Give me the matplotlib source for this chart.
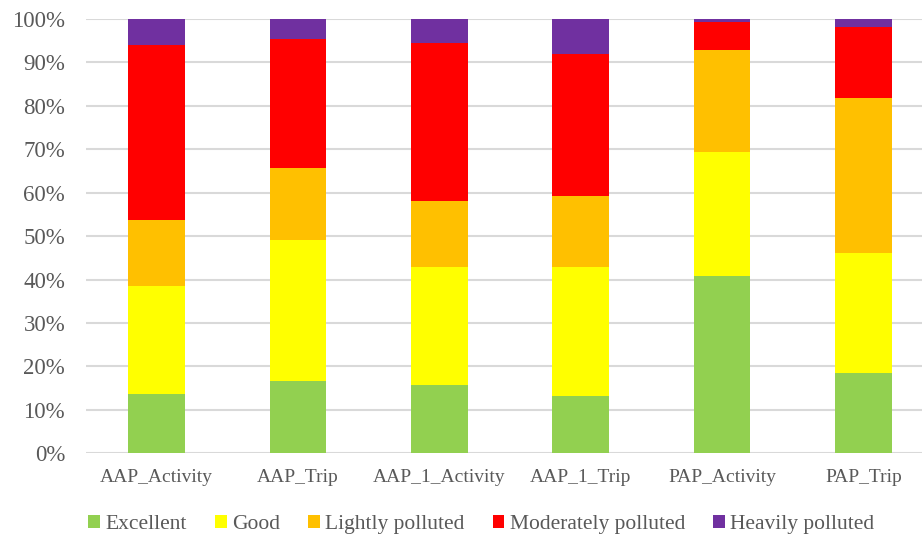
import matplotlib.pyplot as plt
import numpy as np

plt.rcParams['font.family'] = ['Liberation Serif', 'DejaVu Serif']

# share of days in each air-quality class (%)
categories = ["AAP_Activity", "AAP_Trip", "AAP_1_Activity", "AAP_1_Trip", "PAP_Activity", "PAP_Trip"]
excellent = [13.7, 16.7, 15.7, 13.2, 40.8, 18.4]
good = [24.8, 32.4, 27.3, 29.7, 28.6, 27.7]
lightly = [15.3, 16.6, 15.2, 16.3, 23.5, 35.6]
moderately = [40.2, 29.6, 36.3, 32.8, 6.3, 16.4]
heavily = [6.0, 4.7, 5.5, 8.0, 0.8, 1.9]

series = [("Excellent", excellent, "#92D050"),
          ("Good", good, "#FFFF00"),
          ("Lightly polluted", lightly, "#FFC000"),
          ("Moderately polluted", moderately, "#FF0000"),
          ("Heavily polluted", heavily, "#7030A0")]

fig = plt.figure(figsize=(9.22, 5.35), dpi=100)
ax = fig.add_axes([86 / 922, 81.7 / 535, 848 / 922, 434.3 / 535])

x = np.arange(len(categories))
bottom = np.zeros(len(categories))
for name, vals, col in series:
    vals = np.array(vals)
    ax.bar(x, vals, 0.4, bottom=bottom, color=col, label=name, zorder=3)
    bottom += vals

ax.set_xlim(-0.5, 5.5)
ax.set_ylim(0, 100)
ax.set_yticks(np.arange(0, 101, 10))
ax.set_yticklabels([f"{v}%" for v in range(0, 101, 10)])
ax.set_xticks(x)
ax.set_xticklabels(categories)
ax.grid(axis="y", color="#D9D9D9", linewidth=1.5, zorder=0)
for s in ax.spines.values():
    s.set_visible(False)
ax.tick_params(length=0, colors="#595959")
ax.tick_params(axis="x", labelsize=14, pad=11)
ax.tick_params(axis="y", labelsize=16.5, pad=15)

fig.legend(loc="center", bbox_to_anchor=(0.522, 0.019), ncol=5, frameon=False,
           fontsize=15.5, labelcolor="#595959", handlelength=0.55, handleheight=0.55,
           handletextpad=0.25, columnspacing=1.3)

fig.savefig("out.png", dpi=100)
